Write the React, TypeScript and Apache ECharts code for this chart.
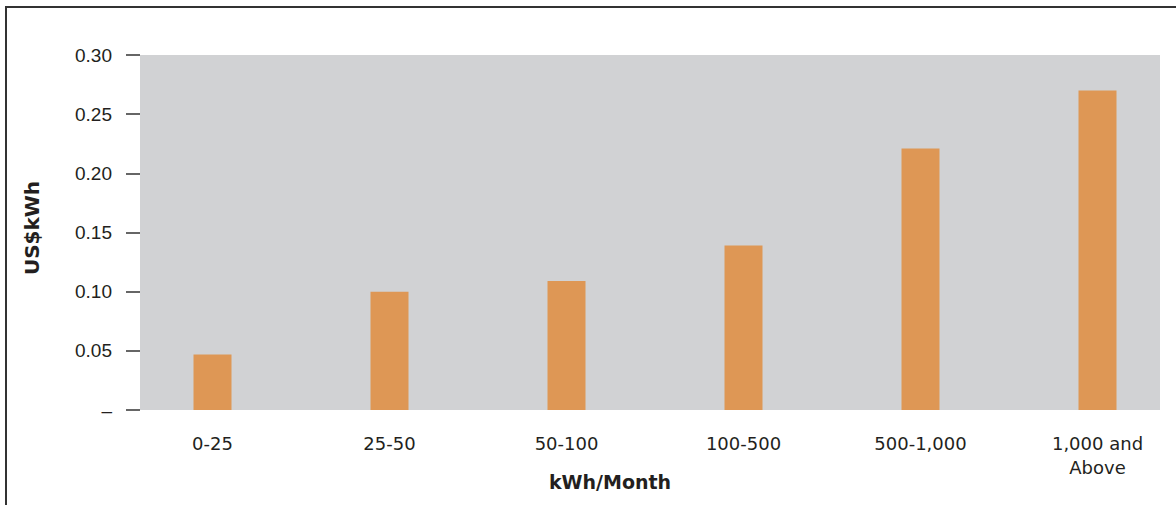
import React, { useEffect, useRef } from "react";
import * as echarts from "echarts";

const categories = ["0-25", "25-50", "50-100", "100-500", "500-1,000", "1,000 and\nAbove"];
const values = [0.047, 0.1, 0.109, 0.139, 0.221, 0.27];
const yTicks = [0, 0.05, 0.1, 0.15, 0.2, 0.25, 0.3];
const yAxisTitle = "US$kWh";
const xAxisTitle = "kWh/Month";

export default function App() {
  const ref = useRef<HTMLDivElement>(null);
  useEffect(() => {
    if (!ref.current) return;
    const chart = echarts.init(ref.current, null, { renderer: "svg" });
    const labelColor = "#231f20";
    chart.setOption({
      animation: false,
      backgroundColor: "#ffffff",
      grid: [
        { left: 140, right: 16, top: 55, bottom: 95, show: true, backgroundColor: "#d1d2d4", borderWidth: 0 },
        { left: 124, width: 1062, top: 55, bottom: 95, outerBoundsMode: "none" },
      ],
      xAxis: [
        { type: "category", gridIndex: 0, data: categories, show: false },
        {
          type: "category",
          gridIndex: 1,
          data: categories,
          axisLine: { show: false },
          axisTick: { show: false },
          axisLabel: {
            color: labelColor,
            fontSize: 18,
            fontFamily: "'DejaVu Sans', sans-serif",
            margin: 21,
            lineHeight: 24,
            interval: 0,
          },
        },
      ],
      yAxis: [
        {
          type: "value",
          gridIndex: 0,
          min: 0,
          max: 0.3,
          interval: 0.05,
          splitLine: { show: false },
          axisLine: { show: false },
          axisTick: { show: true, length: 14, lineStyle: { color: "#333", width: 1.5 } },
          axisLabel: {
            color: labelColor,
            fontSize: 19,
            fontFamily: "'Liberation Sans', Arial, sans-serif",
            margin: 28,
            formatter: (v: number) => {
              const t = yTicks.find((x) => Math.abs(x - v) < 1e-9);
              if (t === undefined) return "";
              return t === 0 ? "–" : t.toFixed(2);
            },
          },
        },
        { type: "value", gridIndex: 1, min: 0, max: 0.3, show: false },
      ],
      series: [
        {
          type: "bar",
          xAxisIndex: 1,
          yAxisIndex: 1,
          data: values,
          barWidth: 38,
          itemStyle: { color: "#de9755" },
        },
      ],
      graphic: [
        { type: "line", shape: { x1: 6, y1: 7, x2: 6, y2: 505 }, style: { stroke: "#333", lineWidth: 2 } },
        { type: "line", shape: { x1: 5, y1: 7, x2: 1176, y2: 7 }, style: { stroke: "#333", lineWidth: 2 } },
        {
          type: "text",
          x: 32,
          y: 228,
          rotation: Math.PI / 2,
          style: {
            text: yAxisTitle,
            fill: labelColor,
            font: "bold 20px 'DejaVu Sans', sans-serif",
            align: "center",
            verticalAlign: "middle",
          },
        },
        {
          type: "text",
          x: 610,
          y: 482,
          style: {
            text: xAxisTitle,
            fill: labelColor,
            font: "bold 19px 'DejaVu Sans', sans-serif",
            align: "center",
            verticalAlign: "middle",
          },
        },
      ],
    });
    return () => chart.dispose();
  }, []);
  return (
    <div
      ref={ref}
      style={{ position: "absolute", left: 0, top: 0, width: 1176, height: 505 }}
    />
  );
}
